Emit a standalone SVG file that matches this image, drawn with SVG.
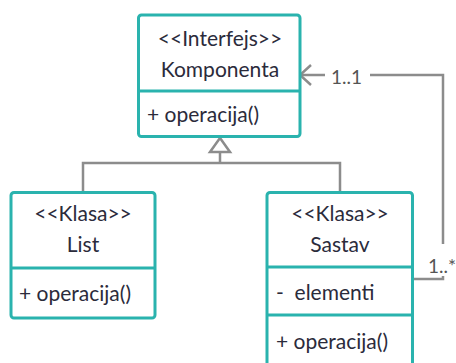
<svg xmlns="http://www.w3.org/2000/svg" width="456" height="363" viewBox="0 0 456 363">
<style>
.box{fill:#fff;stroke:#2ab3ae;stroke-width:3}
.div{stroke:#2ab3ae;stroke-width:3;fill:none}
.t{font-family:Lato,"Liberation Sans",sans-serif;font-size:21px;fill:#2b2b3b}
.c{text-anchor:middle}
.ln{stroke:#8c8c8c;stroke-width:2.5;fill:none}
.lbl{font-family:Lato,"Liberation Sans",sans-serif;font-size:19px;fill:#555}
</style>
<rect width="456" height="363" fill="#fff"/>
<g id="connectors">
  <path class="ln" d="M83,192 V163 H340 V192 M220,163 V152"/>
  <path d="M220,138 L210,152 H230 Z" fill="#fff" stroke="#8c8c8c" stroke-width="2.5"/>
  <path class="ln" d="M413,279 H443 V75 H300"/>
  <path class="ln" d="M311,65 L300,75 L311,85"/>
  <rect x="325" y="64" width="45" height="22" fill="#fff"/>
  <text class="lbl" x="331" y="84">1..1</text>
  <rect x="424" y="244" width="32" height="32" fill="#fff"/>
  <text class="lbl" x="428" y="273">1..*</text>
</g>
<g id="komponenta">
  <rect class="box" x="138.5" y="15" width="161.5" height="121.5" rx="3"/>
  <line class="div" x1="138.5" y1="91" x2="300" y2="91"/>
  <text class="t c" x="220" y="46">&lt;&lt;Interfejs&gt;&gt;</text>
  <text class="t c" x="220" y="77">Komponenta</text>
  <text class="t" x="147" y="122">+ operacija()</text>
</g>
<g id="list">
  <rect class="box" x="11" y="192.5" width="144" height="125.5" rx="3"/>
  <line class="div" x1="11" y1="268" x2="155" y2="268"/>
  <text class="t c" x="83" y="221">&lt;&lt;Klasa&gt;&gt;</text>
  <text class="t c" x="83" y="252">List</text>
  <text class="t" x="19" y="301">+ operacija()</text>
</g>
<g id="sastav">
  <rect class="box" x="267" y="192.5" width="145.5" height="175" rx="3"/>
  <line class="div" x1="267" y1="267" x2="412.5" y2="267"/>
  <line class="div" x1="267" y1="315" x2="412.5" y2="315"/>
  <text class="t c" x="340" y="221">&lt;&lt;Klasa&gt;&gt;</text>
  <text class="t c" x="340" y="252">Sastav</text>
  <text class="t" x="276" y="300" xml:space="preserve">-  elementi</text>
  <text class="t" x="276" y="349">+ operacija()</text>
</g>
</svg>
